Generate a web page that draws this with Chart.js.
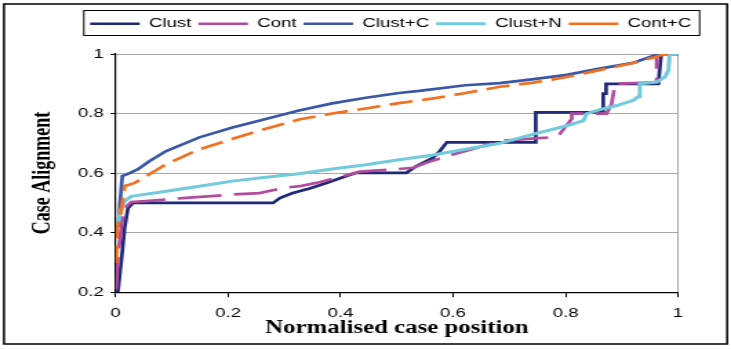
<!DOCTYPE html>
<html>
<head>
<meta charset="utf-8">
<script src="https://cdn.jsdelivr.net/npm/chart.js@4.4.1/dist/chart.umd.min.js"></script>
<style>
  body { margin: 0; background: #fff; }
</style>
</head>
<body>
<!-- the picture is wider than it is drawn, so the canvas is stretched sideways -->
<canvas id="alignChart" width="530" height="349" style="width:731px;height:349px"></canvas>
<script>
const seriesNames = ["Clust", "Cont", "Clust+C", "Clust+N", "Cont+C"]
const seriesColors = ["#202878", "#B44C9E", "#3A57A7", "#71CBDC", "#F3701F"]

const clustX = [0.004, 0.010, 0.016, 0.022, 0.031, 0.280, 0.292, 0.315, 0.345, 0.375, 0.404, 0.428, 0.517, 0.535, 0.565, 0.577, 0.589, 0.747, 0.747, 0.867, 0.867, 0.872, 0.872, 0.965, 0.970, 1.0]
const clustY = [0.20, 0.30, 0.415, 0.482, 0.50, 0.50, 0.516, 0.533, 0.548, 0.567, 0.586, 0.601, 0.601, 0.624, 0.652, 0.675, 0.703, 0.703, 0.804, 0.804, 0.867, 0.867, 0.90, 0.90, 1.0, 1.0]

const contX = [0.001, 0.004, 0.010, 0.016, 0.028, 0.060, 0.119, 0.208, 0.256, 0.297, 0.327, 0.357, 0.404, 0.434, 0.493, 0.529, 0.562, 0.612, 0.624, 0.683, 0.740, 0.772, 0.787, 0.811, 0.811, 0.873, 0.882, 0.888, 0.962, 0.962, 1.0]
const contY = [0.21, 0.313, 0.415, 0.482, 0.503, 0.507, 0.516, 0.528, 0.533, 0.55, 0.556, 0.567, 0.59, 0.605, 0.612, 0.618, 0.641, 0.669, 0.675, 0.708, 0.716, 0.72, 0.725, 0.782, 0.80, 0.80, 0.833, 0.90, 0.905, 1.0, 1.0]

const clustCX = [0.005, 0.008, 0.012, 0.025, 0.040, 0.060, 0.090, 0.149, 0.208, 0.267, 0.326, 0.385, 0.445, 0.504, 0.540, 0.622, 0.683, 0.740, 0.802, 0.858, 0.920, 0.965, 1.0]
const clustCY = [0.42, 0.50, 0.59, 0.60, 0.613, 0.64, 0.674, 0.72, 0.753, 0.782, 0.81, 0.834, 0.853, 0.869, 0.876, 0.895, 0.902, 0.915, 0.93, 0.95, 0.97, 1.0, 1.0]

const clustNX = [0.004, 0.008, 0.016, 0.028, 0.090, 0.149, 0.208, 0.267, 0.326, 0.385, 0.445, 0.504, 0.562, 0.622, 0.683, 0.743, 0.802, 0.832, 0.837, 0.861, 0.891, 0.920, 0.930, 0.932, 0.962, 0.977, 0.983, 0.985, 1.0]
const clustNY = [0.43, 0.47, 0.505, 0.522, 0.539, 0.556, 0.573, 0.586, 0.598, 0.614, 0.628, 0.645, 0.66, 0.68, 0.70, 0.731, 0.759, 0.776, 0.799, 0.813, 0.827, 0.844, 0.857, 0.90, 0.906, 0.923, 0.946, 1.0, 1.0]

const contCX = [0.001, 0.003, 0.010, 0.016, 0.034, 0.060, 0.090, 0.149, 0.208, 0.267, 0.326, 0.385, 0.445, 0.504, 0.562, 0.620, 0.683, 0.740, 0.800, 0.858, 0.920, 0.960, 0.975, 1.0]
const contCY = [0.30, 0.415, 0.47, 0.556, 0.567, 0.596, 0.63, 0.68, 0.715, 0.749, 0.78, 0.80, 0.817, 0.835, 0.85, 0.868, 0.89, 0.903, 0.922, 0.945, 0.97, 0.99, 1.0, 1.0]

const xTicks = [0, 0.2, 0.4, 0.6, 0.8, 1]
const yTicks = [0.2, 0.4, 0.6, 0.8, 1]

const xTitle = "Normalised case position"
const yTitle = "Case Alignment"

function toPoints(xs, ys){
    let pts = []
    for (let i = 0; i < xs.length; i++){
        pts.push({x: xs[i], y: ys[i]})
    }
    return pts
}

const seriesData = [
    toPoints(clustX, clustY),
    toPoints(contX, contY),
    toPoints(clustCX, clustCY),
    toPoints(clustNX, clustNY),
    toPoints(contCX, contCY)
]
const seriesDash = [[], [32, 9], [], [], [17, 7]]
const seriesWidth = [2.7, 2.7, 2.7, 3, 2.7]

let datasets = []
for (let i = 0; i < seriesNames.length; i++){
    datasets.push({
        label: seriesNames[i],
        data: seriesData[i],
        borderColor: seriesColors[i],
        backgroundColor: seriesColors[i],
        borderWidth: seriesWidth[i],
        borderDash: seriesDash[i],
        pointRadius: 0,
        tension: 0,
        fill: false,
        // later series sit on top, like the original
        order: seriesNames.length - i
    })
}

// legend sits in its own framed box, the whole picture has a frame too
const frames = {
    id: 'frames',
    beforeInit(chart){
        const fit = chart.legend.fit
        chart.legend.fit = function(){
            fit.bind(chart.legend)()
            this.height += 13.5
        }
    },
    afterLayout(chart){
        const lg = chart.legend
        const w = lg.right - lg.left
        lg.left = 60.3
        lg.right = lg.left + w
    },
    afterDraw(chart){
        const ctx = chart.ctx
        const boxes = chart.legend.legendHitBoxes
        const first = boxes[0]
        const last = boxes[boxes.length - 1]
        ctx.save()
        ctx.strokeStyle = '#000'
        ctx.lineWidth = 1
        ctx.strokeRect(first.left - 4.5, 10.5, last.left + last.width + 6 - (first.left - 4.5), 25)
        ctx.lineWidth = 1.5
        ctx.strokeRect(2.9, 4, 524.3, 340)
        ctx.restore()
    }
}

const tickFont = {family: "'Liberation Sans', Arial, sans-serif", size: 13.5}
const titleFont = {family: "'Liberation Serif', 'Times New Roman', serif", size: 18, weight: 'bold', lineHeight: 1}

Chart.defaults.color = '#000'

new Chart(document.getElementById("alignChart"), {
    type: 'line',
    data: {datasets: datasets},
    options: {
        responsive: false,
        animation: false,
        layout: {padding: {left: 2, right: 38.4, top: 12, bottom: 5}},
        plugins: {
            tooltip: {enabled: false},
            legend: {
                reverse: true,
                align: 'start',
                labels: {
                    usePointStyle: true,
                    pointStyle: 'line',
                    pointStyleWidth: 36,
                    padding: 5,
                    color: '#000',
                    font: tickFont
                }
            }
        },
        scales: {
            x: {
                type: 'linear',
                min: 0,
                max: 1,
                afterBuildTicks: scale => { scale.ticks = xTicks.map(v => ({value: v})) },
                ticks: {
                    font: tickFont,
                    color: '#000',
                    padding: 8,
                    maxRotation: 0,
                    callback: v => String(Number(v.toFixed(1)))
                },
                grid: {
                    color: c => (c.tick && c.tick.value === 1) ? '#A6A6A6' : 'rgba(0,0,0,0)',
                    tickColor: '#000',
                    tickLength: 5,
                    lineWidth: 1
                },
                border: {color: '#000', width: 1.2},
                title: {display: true, text: xTitle, font: titleFont, color: '#000', padding: {top: -10.4, bottom: 7}}
            },
            y: {
                type: 'linear',
                min: 0.2,
                max: 1,
                afterBuildTicks: scale => { scale.ticks = yTicks.map(v => ({value: v})) },
                ticks: {
                    font: tickFont,
                    color: '#000',
                    padding: 5,
                    callback: v => String(Number(v.toFixed(1)))
                },
                grid: {
                    color: '#A6A6A6',
                    tickColor: '#000',
                    tickLength: 3.6,
                    lineWidth: 1
                },
                border: {color: '#000', width: 1.2},
                title: {display: true, text: yTitle, font: titleFont, color: '#000', padding: {top: 20, bottom: 11.4}}
            }
        }
    },
    plugins: [frames]
})
</script>
</body>
</html>
